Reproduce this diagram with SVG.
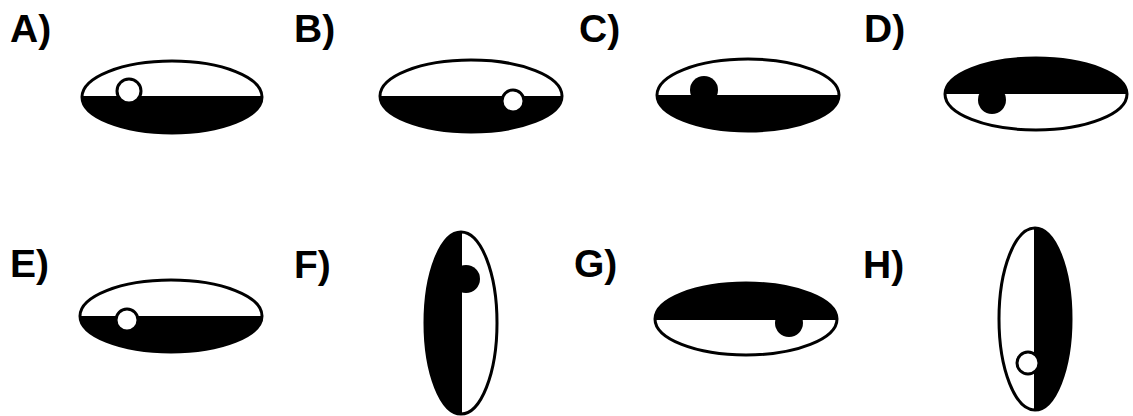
<svg xmlns="http://www.w3.org/2000/svg" width="1133" height="416" viewBox="0 0 1133 416">
<style>
.lbl{font-family:"Liberation Sans",Arial,sans-serif;font-weight:bold;font-size:39px;fill:#000}
.out{fill:none;stroke:#000;stroke-width:3}
.half{fill:#000}
.div{stroke:#000;stroke-width:2}
.wd{fill:#fff;stroke:#000;stroke-width:3}
.bd{fill:#000}
</style>
<rect width="1133" height="416" fill="#fff"/>
<g id="A">
<text class="lbl" x="10" y="42">A)</text>
<path class="half" d="M82,97 A90,36 0 0 0 262,97 Z"/>
<ellipse class="out" cx="172" cy="97" rx="90" ry="36"/>
<line class="div" x1="82" y1="97" x2="262" y2="97"/>
<circle class="wd" cx="129" cy="91" r="12"/>
</g>
<g id="B">
<text class="lbl" x="294" y="42">B)</text>
<path class="half" d="M380,96 A91,36 0 0 0 562,96 Z"/>
<ellipse class="out" cx="471" cy="96" rx="91" ry="36"/>
<circle class="wd" cx="513" cy="101" r="11"/>
</g>
<g id="C">
<text class="lbl" x="579" y="42">C)</text>
<path class="half" d="M657,95 A91,36 0 0 0 839,95 Z"/>
<ellipse class="out" cx="748" cy="95" rx="91" ry="36"/>
<circle class="bd" cx="704" cy="90" r="14"/>
</g>
<g id="D">
<text class="lbl" x="864" y="42">D)</text>
<path class="half" d="M945,94 A91,36 0 0 1 1127,94 Z"/>
<ellipse class="out" cx="1036" cy="94" rx="91" ry="36"/>
<circle class="bd" cx="992" cy="100" r="14"/>
</g>
<g id="E">
<text class="lbl" x="10" y="277">E)</text>
<path class="half" d="M80,316 A91,36 0 0 0 262,316 Z"/>
<ellipse class="out" cx="171" cy="316" rx="91" ry="36"/>
<circle class="wd" cx="127" cy="320" r="11"/>
</g>
<g id="F">
<text class="lbl" x="294" y="278">F)</text>
<path class="half" d="M461,232 A36,91 0 0 0 461,414 Z"/>
<ellipse class="out" cx="461" cy="323" rx="36" ry="91"/>
<line class="div" x1="461" y1="232" x2="461" y2="414"/>
<circle class="bd" cx="466" cy="279" r="14"/>
</g>
<g id="G">
<text class="lbl" x="574" y="277">G)</text>
<path class="half" d="M655,319 A91,36 0 0 1 837,319 Z"/>
<ellipse class="out" cx="746" cy="319" rx="91" ry="36"/>
<line class="div" x1="655" y1="319" x2="837" y2="319"/>
<circle class="bd" cx="789" cy="323" r="14"/>
</g>
<g id="H">
<text class="lbl" x="863" y="278">H)</text>
<path class="half" d="M1035,228 A36,91 0 0 1 1035,410 Z"/>
<ellipse class="out" cx="1035" cy="319" rx="36" ry="91"/>
<line class="div" x1="1035" y1="228" x2="1035" y2="410"/>
<circle class="wd" cx="1028" cy="363" r="11"/>
</g>
</svg>
